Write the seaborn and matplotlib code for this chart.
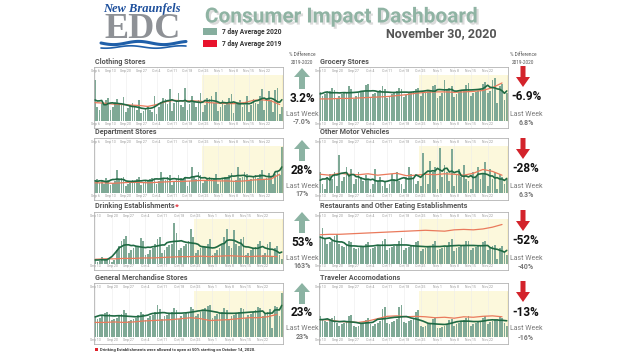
import numpy as np
import pandas as pd
import matplotlib.pyplot as plt
import matplotlib.patheffects as pe
from matplotlib.patches import Rectangle, FancyArrow
import seaborn as sns

sns.set_theme(style="white")
plt.rcParams["font.family"] = ["Roboto", "DejaVu Sans"]

# Week labels on the panels
TICKS_SEP6 = ["Sep 6", "Sep 13", "Sep 20", "Sep 27", "Oct 4", "Oct 11", "Oct 18",
              "Oct 25", "Nov 1", "Nov 8", "Nov 15", "Nov 22"]
TICKS_SEP13 = TICKS_SEP6[1:]

# Daily 2020 values (as % of panel height)
clothing_2020 = [88, 30, 25, 40, 35, 45, 50, 25, 30, 42, 48, 38, 35, 52,
                 20, 28, 35, 40, 30, 25, 45, 18, 22, 28, 30, 25, 20, 55,
                 15, 30, 42, 50, 48, 38, 70, 22, 40, 45, 60, 35, 30, 72,
                 25, 38, 55, 42, 30, 45, 60, 20, 35, 50, 48, 55, 40, 62,
                 22, 30, 45, 35, 40, 50, 58, 18, 38, 42, 45, 30, 35, 55,
                 20, 36, 48, 40, 38, 55, 70, 25, 50, 65, 45, 20, 68, 72,
                 15, 30]
department_2020 = [25, 30, 22, 28, 20, 32, 28, 18, 22, 25, 48, 30, 32, 35,
                   15, 20, 22, 28, 25, 30, 35, 18, 22, 25, 28, 30, 32, 30,
                   20, 25, 45, 30, 28, 35, 38, 18, 25, 30, 38, 32, 30, 35,
                   15, 25, 55, 35, 30, 45, 38, 22, 28, 30, 35, 32, 30, 40,
                   20, 25, 30, 35, 32, 38, 42, 25, 28, 55, 32, 35, 45, 40,
                   28, 30, 35, 38, 32, 40, 48, 30, 32, 42, 35, 20, 40, 45,
                   38, 98]
drinking_2020 = [8, 5, 6, 15, 8, 10, 12, 5, 8, 30, 40, 50, 55, 62,
                 25, 30, 35, 40, 38, 58, 50, 20, 22, 30, 35, 45, 55, 60,
                 25, 30, 38, 42, 45, 91, 70, 30, 35, 40, 45, 50, 77, 60,
                 25, 30, 35, 40, 38, 45, 55, 20, 25, 30, 35, 42, 60, 77,
                 40, 35, 75, 45, 40, 55, 60, 20, 25, 30, 35, 38, 45, 50,
                 20, 25, 45, 48, 15, 35, 40, 20, 10]
general_2020 = [45, 40, 42, 48, 52, 55, 50, 38, 40, 42, 45, 50, 58, 52,
                35, 38, 40, 42, 48, 55, 50, 38, 42, 45, 48, 55, 70, 60,
                40, 45, 48, 52, 55, 62, 58, 40, 45, 50, 52, 55, 65, 60,
                45, 50, 55, 58, 62, 68, 70, 42, 45, 50, 52, 55, 62, 58,
                40, 45, 48, 52, 55, 62, 60, 42, 48, 50, 55, 58, 65, 62,
                45, 50, 55, 60, 20, 68, 65, 45, 95]
grocery_2020 = [62, 55, 58, 60, 65, 72, 68, 50, 55, 58, 60, 62, 75, 70,
                48, 55, 60, 62, 65, 78, 80, 52, 58, 60, 62, 68, 75, 70,
                50, 55, 58, 62, 65, 72, 70, 52, 56, 60, 62, 65, 70, 72,
                55, 60, 62, 65, 68, 75, 78, 50, 55, 60, 88, 70, 72, 75,
                52, 58, 62, 65, 68, 78, 82, 55, 60, 62, 65, 70, 80, 85,
                60, 65, 88, 92, 40, 75, 80, 45, 60]
motor_2020 = [45, 20, 10, 35, 40, 30, 45, 15, 80, 25, 35, 55, 40, 50,
              20, 30, 45, 35, 25, 38, 30, 10, 20, 50, 25, 35, 15, 25,
              12, 20, 40, 30, 45, 25, 20, 10, 35, 55, 40, 30, 20, 25,
              15, 85, 40, 20, 67, 45, 55, 10, 95, 35, 60, 45, 25, 93,
              15, 40, 50, 35, 60, 30, 25, 10, 45, 35, 55, 30, 40, 65,
              15, 50, 30, 45, 10, 40, 35, 20, 30]
restaurants_2020 = [60, 80, 55, 45, 48, 50, 62, 66, 45, 40, 38, 42, 50, 48,
                    35, 32, 35, 38, 40, 45, 48, 32, 35, 38, 40, 42, 50, 55,
                    30, 35, 38, 40, 42, 52, 58, 30, 35, 38, 40, 42, 48, 50,
                    28, 32, 35, 38, 40, 45, 50, 30, 32, 35, 38, 40, 48, 55,
                    28, 35, 38, 40, 42, 50, 52, 30, 35, 38, 40, 42, 48, 50,
                    30, 35, 40, 42, 10, 35, 40, 25, 20]
traveler_2020 = [45, 40, 35, 32, 38, 42, 45, 30, 25, 28, 30, 35, 45, 48,
                 25, 22, 25, 28, 30, 38, 42, 28, 25, 28, 30, 35, 60, 65,
                 30, 28, 32, 35, 40, 65, 70, 32, 30, 35, 38, 42, 55, 58,
                 25, 22, 25, 28, 30, 40, 42, 20, 20, 22, 25, 28, 38, 40,
                 25, 28, 30, 35, 38, 42, 45, 25, 28, 30, 32, 35, 42, 45,
                 28, 32, 35, 40, 38, 45, 42, 30, 25]

# 2019 seven-day average, one reading every 4 days
clothing_2019 = [40, 39, 37, 36, 35, 34, 32, 36, 42, 45, 44, 44, 43, 40, 39, 38, 38, 40, 45, 46, 44, 36]
department_2019 = [22, 22, 21, 22, 23, 23, 22, 23, 24, 25, 25, 26, 27, 27, 26, 26, 25, 26, 28, 29, 30, 40]
drinking_2019 = [10, 11, 11, 12, 12, 13, 13, 14, 15, 16, 16, 17, 16, 17, 18, 17, 16, 17, 17, 16]
general_2019 = [32, 32, 33, 32, 33, 35, 36, 37, 38, 40, 42, 40, 36, 37, 38, 40, 42, 42, 44, 49]
grocery_2019 = [48, 48, 49, 49, 50, 51, 52, 53, 55, 57, 60, 62, 63, 63, 62, 63, 64, 66, 72, 82]
motor_2019 = [40, 38, 42, 40, 39, 41, 38, 40, 42, 37, 38, 40, 39, 41, 40, 38, 42, 50, 46, 38]
restaurants_2019 = [65, 66, 66, 67, 68, 69, 70, 71, 72, 73, 74, 75, 74, 73, 76, 77, 76, 78, 82, 88]
traveler_2019 = [38, 37, 34, 33, 32, 35, 40, 45, 46, 44, 45, 44, 42, 43, 41, 44, 43, 45, 46, 44]

# % difference 2019-2020 and last week's value
left_pct = ["3.2%", "28%", "53%", "23%"]
left_last = ["-7.0%", "17%", "163%", "23%"]
right_pct = ["-6.9%", "-28%", "-52%", "-13%"]
right_last = ["6.8%", "6.3%", "-40%", "-16%"]

GREEN = "#7fa996"
DARK = "#1f6a43"
RED19 = "#ea7a5c"

fig = plt.figure(figsize=(6.4, 3.6), dpi=100)
fig.patch.set_facecolor("white")

# overlay in pixel coords for text / decorations
ov = fig.add_axes([0, 0, 1, 1])
ov.set_xlim(0, 640)
ov.set_ylim(360, 0)
ov.axis("off")


def px_rect(x, y, w, h):
    return [x / 640, 1 - (y + h) / 360, w / 640, h / 360]


def draw_panel(x, y, w, h, title, daily, avg2019, ticks):
    ax = fig.add_axes(px_rect(x, y, w, h))
    n = len(daily)
    df = pd.DataFrame({"day": np.arange(n), "value": daily})
    df["avg"] = df["value"].rolling(7, min_periods=1, center=True).mean()
    d19 = pd.DataFrame({"day": np.arange(0, n, 4)[:len(avg2019)], "value": avg2019})

    lo, hi = -14, 116
    ylo, yhi = -lo / (hi - lo), (100 - lo) / (hi - lo)
    start = ticks.index("Oct 25") * 7
    ax.axvspan(start - 0.5, n - 0.5, ymin=ylo, ymax=yhi, color="#fcf8dc", zorder=0, lw=0)
    sns.barplot(data=df, x="day", y="value", color=GREEN, saturation=1,
                width=0.75, linewidth=0, edgecolor="none", ax=ax, zorder=2)
    sns.lineplot(data=d19, x="day", y="value", color=RED19, lw=0.9, ax=ax, zorder=3)
    sns.lineplot(data=df, x="day", y="avg", color=DARK, lw=1.2, ax=ax, zorder=4)
    ax.axvline(n - 0.6, ymin=ylo, ymax=yhi, color="#e9d46a", lw=1.0, zorder=5)

    ax.set_xlim(-0.5, n - 0.5)
    ax.set_ylim(lo, hi)
    ax.set_xticks(np.arange(len(ticks)) * 7, ticks)
    ax.set_yticks([])
    ax.set_xlabel("")
    ax.set_ylabel("")
    ax.grid(axis="x", color="#ececec", lw=0.4, zorder=1)
    ax.tick_params(axis="x", length=0, labelsize=2.5, labelcolor="#9a9a9a",
                   labeltop=True, labelbottom=True, pad=-4.5)
    for s in ax.spines.values():
        s.set_color("#b3b3b3")
        s.set_linewidth(0.6)
    ov.text(x + 1, y - 1.5, title, fontsize=5.2, fontweight="bold",
            color="#555555", ha="left", va="bottom")
    return ax


LX, RX, W = 94, 319, 189
tops = [67, 138, 212, 283]
heights = [61, 62, 58, 61]

draw_panel(LX, tops[0], W, heights[0], "Clothing Stores", clothing_2020, clothing_2019, TICKS_SEP6)
draw_panel(LX, tops[1], W, heights[1], "Department Stores", department_2020, department_2019, TICKS_SEP6)
draw_panel(LX, tops[2], W, heights[2], "Drinking Establishments", drinking_2020, drinking_2019, TICKS_SEP13)
draw_panel(LX, tops[3], W, heights[3], "General Merchandise Stores", general_2020, general_2019, TICKS_SEP13)
draw_panel(RX, tops[0], W, heights[0], "Grocery Stores", grocery_2020, grocery_2019, TICKS_SEP13)
draw_panel(RX, tops[1], W, heights[1], "Other Motor Vehicles", motor_2020, motor_2019, TICKS_SEP13)
draw_panel(RX, tops[2], W, heights[2], "Restaurants and Other Eating Establishments",
           restaurants_2020, restaurants_2019, TICKS_SEP13)
draw_panel(RX, tops[3], W, heights[3], "Traveler Accomodations", traveler_2020, traveler_2019, TICKS_SEP13)

# red star next to Drinking Establishments
ov.text(175, tops[2] - 2.5, "*", color="#e0202a", fontsize=6, fontweight="bold", ha="left", va="bottom")

# indicator columns
for cx in (302, 523):
    ov.text(cx, 55, "% Difference", fontsize=3.4, color="#555555", ha="center", va="center")
    ov.text(cx, 62, "2019-2020", fontsize=3.4, color="#555555", ha="center", va="center")

arrow_tops = [68, 140, 212, 283]
for i, top in enumerate(arrow_tops):
    # left: green up arrows
    ov.add_patch(FancyArrow(302, top + 21, 0, -12, width=6, head_width=16, head_length=9,
                            length_includes_head=False, color="#8cb3a3", lw=0))
    ov.text(302, top + 30, left_pct[i], fontsize=8.5, fontweight="bold", color="#111111",
            ha="center", va="center")
    ov.text(302, top + 46, "Last Week", fontsize=5, color="#7a7a7a", ha="center", va="center")
    ov.text(302, top + 54, left_last[i], fontsize=5, fontweight="bold", color="#777777",
            ha="center", va="center")
    # right: red down arrows
    ov.add_patch(FancyArrow(523, top - 2, 0, 11, width=5, head_width=14, head_length=10,
                            length_includes_head=False, color="#d3232b", lw=0))
    ov.text(526, top + 29, right_pct[i], fontsize=8.5, fontweight="bold", color="#111111",
            ha="center", va="center")
    ov.text(526, top + 46, "Last Week", fontsize=5, color="#7a7a7a", ha="center", va="center")
    ov.text(526, top + 55, right_last[i], fontsize=5, fontweight="bold", color="#777777",
            ha="center", va="center")

# header
ov.text(342, 17, "Consumer Impact Dashboard", fontsize=15, fontweight="bold",
        color="#8fb3a3", ha="center", va="center",
        path_effects=[pe.withSimplePatchShadow(offset=(1.5, -1.5), shadow_rgbFace="#9a9a9a", alpha=0.35)])
ov.text(497, 34, "November 30, 2020", fontsize=9, fontweight="bold", color="#555555",
        ha="right", va="center")
ov.add_patch(Rectangle((203, 28), 14, 7, color="#86ae9e", lw=0))
ov.add_patch(Rectangle((203, 40), 14, 7, color="#e8132d", lw=0))
ov.text(222, 31.5, "7 day Average 2020", fontsize=4.8, fontweight="bold", color="#333333", va="center")
ov.text(222, 43.5, "7 day Average 2019", fontsize=4.8, fontweight="bold", color="#333333", va="center")

# logo
ov.text(142, 9, "New Braunfels", fontsize=9, fontstyle="italic", fontweight="bold",
        family=["Liberation Serif"], color="#1d4f9c", ha="center", va="center")
ov.text(143, 30, "EDC", fontsize=26, fontweight="bold", family=["Liberation Serif"],
        color="#8e9196", ha="center", va="center")
wx = np.linspace(101, 186, 80)
ov.plot(wx, 43 + 1.6 * np.sin((wx - 101) / 8), color="#1f5fa9", lw=2.2)
ov.plot(wx, 47 + 1.2 * np.sin((wx - 101) / 8 + 1), color="#1f5fa9", lw=1.2)

# footnote
ov.add_patch(Rectangle((95, 348), 3, 3, color="#e0202a", lw=0))
ov.text(100, 349.5, "Drinking Establishments were allowed to open at 50% starting on October 14, 2020.",
        fontsize=3, fontweight="bold", color="#333333", va="center")

fig.savefig("out.png", dpi=100, facecolor="white")
